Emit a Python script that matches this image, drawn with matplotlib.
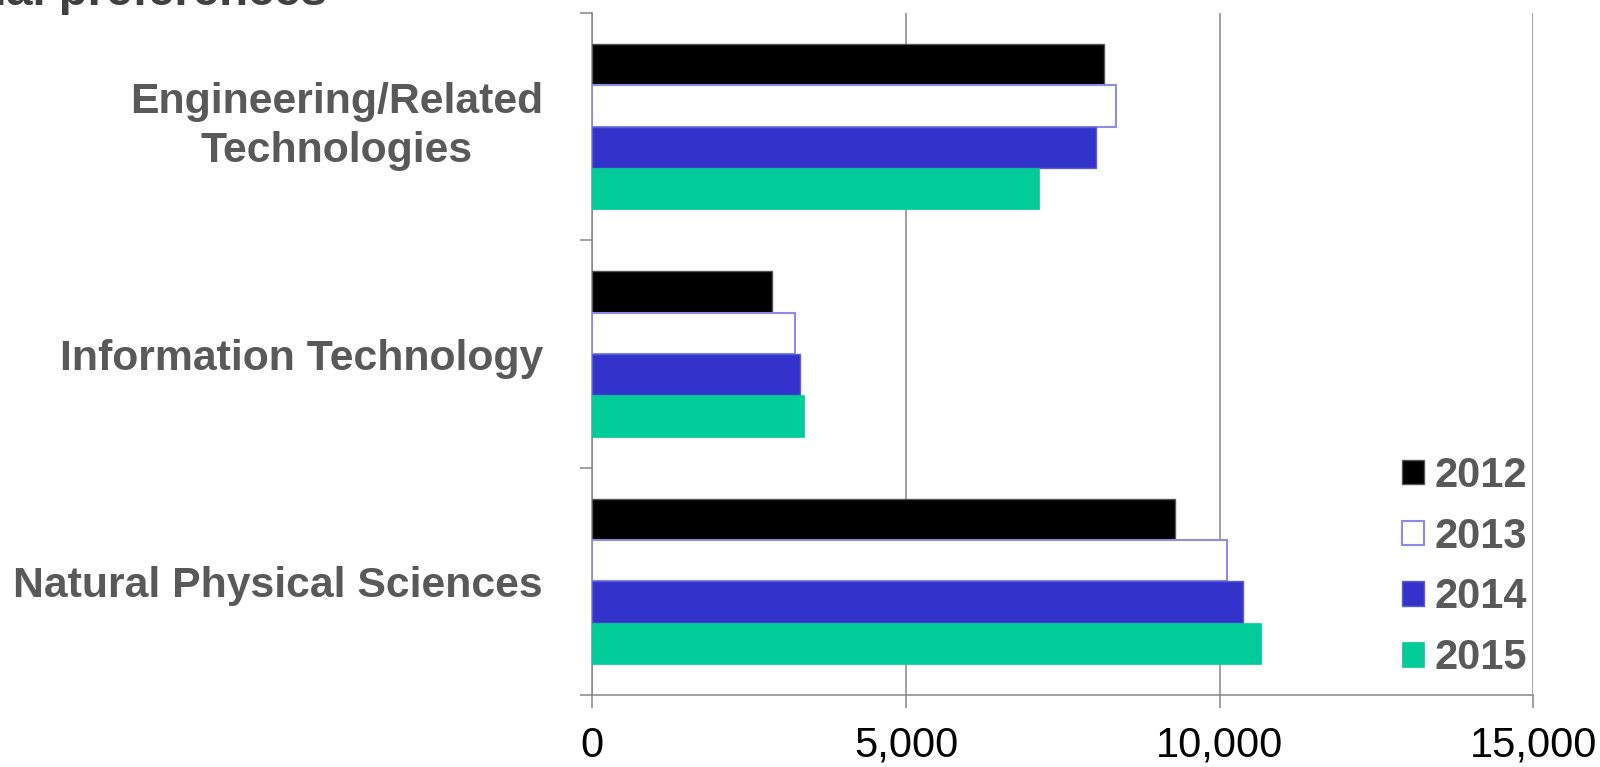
import numpy as np
import matplotlib
matplotlib.use("Agg")
import matplotlib.pyplot as plt
from matplotlib.patches import Patch
from matplotlib.transforms import ScaledTranslation

plt.rcParams['font.family'] = ['Liberation Sans', 'DejaVu Sans']

categories = ["Engineering/Related\nTechnologies", "Information Technology", "Natural Physical Sciences"]
years = ["2012", "2013", "2014", "2015"]
v2012 = [8156, 2869, 9283]
v2013 = [8347, 3226, 10112]
v2014 = [8028, 3311, 10376]
v2015 = [7120, 3369, 10658]
x_ticks = [0, 5000, 10000, 15000]
x_tick_labels = ["0", "5,000", "10,000", "15,000"]

series = [v2012, v2013, v2014, v2015]
faces = ['#000000', '#ffffff', '#3333cc', '#00cc99']
edges = ['#555555', '#8c8ce6', '#5c5cd6', '#00cc99']
widths = [1.0, 1.5, 1.0, 0.5]

fig = plt.figure(figsize=(16, 7.67), dpi=100)
ax = fig.add_axes([592.3 / 1600, 72 / 767, (1533.4 - 592.3) / 1600, 682 / 767])

h = 0.182
y = np.arange(len(categories))
for i, vals in enumerate(series):
    ax.barh(y + (i - 1.5) * h, vals, height=h, color=faces[i], edgecolor=edges[i],
            linewidth=widths[i], zorder=3)

ax.set_xlim(0, 15000)
ax.set_ylim(2.5, -0.5)
ax.set_xticks(x_ticks)
ax.set_xticklabels(x_tick_labels)
ax.set_yticks(y)
ax.set_yticklabels(categories)
ax.set_yticks([-0.5, 0.5, 1.5, 2.5], minor=True)

gray = '#868686'
ax.grid(axis='x', color=gray, linewidth=1.1, zorder=0)
ax.set_axisbelow(True)
for s in ['top', 'right']:
    ax.spines[s].set_visible(False)
for s in ['left', 'bottom']:
    ax.spines[s].set_color(gray)
    ax.spines[s].set_linewidth(1.1)

ax.tick_params(axis='x', length=9, width=1.1, color=gray, pad=13, labelsize=30, labelcolor='black')
ax.tick_params(axis='y', which='major', length=0, pad=35.5, labelsize=30.8, labelcolor='#595959')
ax.tick_params(axis='y', which='minor', length=9, width=1.1, color=gray)
for lab in ax.get_yticklabels():
    lab.set_fontweight('bold')
    lab.set_multialignment('center')
    lab.set_linespacing(1.3)
# the two-line label sits a little higher in the reference
first = ax.get_yticklabels()[0]
first.set_transform(first.get_transform() + ScaledTranslation(0, 9 / 100, fig.dpi_scale_trans))

handles = [Patch(facecolor=faces[i], edgecolor=edges[i], linewidth=widths[i]) for i in range(4)]
leg = fig.legend(handles, years, loc='center left', bbox_to_anchor=(1402 / 1600, 1 - 567 / 767),
                 frameon=False, borderpad=0, borderaxespad=0, handlelength=0.53, handleheight=0.53,
                 handletextpad=0.24, labelspacing=0.5, prop={'size': 30, 'weight': 'bold'})
for t in leg.get_texts():
    t.set_color('#595959')

fig.text(327 / 1600, 1 - 5 / 767, "Educational preferences", ha='right', va='baseline',
         fontsize=34, fontweight='bold', color='#404040')

fig.savefig("out.png", dpi=100)
